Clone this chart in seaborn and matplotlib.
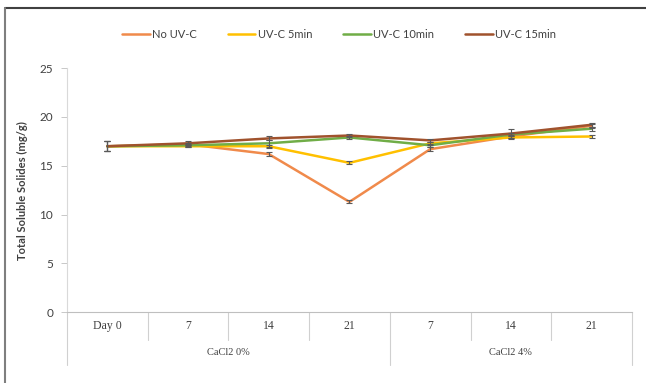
import matplotlib
matplotlib.use("Agg")
import matplotlib.pyplot as plt
import numpy as np
import pandas as pd
import seaborn as sns
from matplotlib.lines import Line2D

# Sampling days and CaCl2 groups
tick_labels = ["Day 0", "7", "14", "21", "7", "14", "21"]
group_labels = ["CaCl2 0%", "CaCl2 4%"]
series_names = ["No UV-C", "UV-C 5min", "UV-C 10min", "UV-C 15min"]

# Total soluble solids (mg/g)
no_uv = [17.0, 17.2, 16.2, 11.3, 16.7, 18.0, 19.1]
uv_5 = [17.0, 17.0, 17.0, 15.3, 17.3, 17.9, 18.0]
uv_10 = [17.0, 17.1, 17.3, 17.9, 17.1, 18.2, 18.8]
uv_15 = [17.0, 17.3, 17.8, 18.1, 17.6, 18.3, 19.2]

# Standard deviations
sd_no_uv = [0.5, 0.15, 0.2, 0.15, 0.2, 0.2, 0.2]
sd_5 = [0.5, 0.1, 0.15, 0.15, 0.15, 0.2, 0.15]
sd_10 = [0.5, 0.15, 0.35, 0.15, 0.15, 0.2, 0.2]
sd_15 = [0.5, 0.2, 0.2, 0.2, 0.15, 0.5, 0.2]

colors = ["#F08A4B", "#FFC000", "#70AD47", "#A0522D"]

values = [no_uv, uv_5, uv_10, uv_15]
sds = [sd_no_uv, sd_5, sd_10, sd_15]

rows = []
for name, vals, errs in zip(series_names, values, sds):
    for i, (v, e) in enumerate(zip(vals, errs)):
        rows.append({"pos": i, "series": name, "tss": v, "sd": e})
df = pd.DataFrame(rows)

sns.set_theme(style="white")
plt.rcParams["font.family"] = ["Lato", "DejaVu Sans"]

fig = plt.figure(figsize=(6.46, 3.83), dpi=100)
ax = fig.add_axes([0.1037, 0.185, 0.8745, 0.637])

sns.lineplot(data=df, x="pos", y="tss", hue="series", hue_order=series_names,
             palette=colors, linewidth=1.8, ax=ax, legend=False, sort=False)

for name, grp in df.groupby("series", sort=False):
    ax.errorbar(grp["pos"], grp["tss"], yerr=grp["sd"], fmt="none",
                ecolor="#595959", elinewidth=0.8, capsize=2.5, capthick=0.8,
                zorder=5)

ax.set_xlim(-0.5, 6.5)
ax.set_ylim(0, 25)
ax.set_yticks([0, 5, 10, 15, 20, 25])
ax.set_xticks([])
ax.set_xlabel("")
ax.set_ylabel("Total Soluble Solides (mg/g)", fontsize=8, fontweight="bold",
              color="#404040", labelpad=8)
ax.tick_params(axis="y", direction="out", length=4, width=0.6,
               color="#BFBFBF", labelsize=8.5, labelcolor="#404040", pad=6,
               left=True)

for side in ["top", "right"]:
    ax.spines[side].set_visible(False)
ax.spines["left"].set_color("#D9D9D9")
ax.spines["left"].set_linewidth(0.8)
ax.spines["bottom"].set_color("#BFBFBF")
ax.spines["bottom"].set_linewidth(0.8)

# Category axis drawn as a two-level table below the plot
trans = ax.get_xaxis_transform()
short_drop = -0.115
long_drop = -0.215
for i in range(8):
    x = i - 0.5
    drop = long_drop if i in (0, 4, 7) else short_drop
    ax.plot([x, x], [0, drop], transform=trans, color="#D0D0D0",
            linewidth=0.8, clip_on=False)
for i, lab in enumerate(tick_labels):
    ax.text(i, -0.058, lab, transform=trans, ha="center", va="center",
            fontsize=8.5, family=["Liberation Serif"], color="#404040")
ax.text(1.5, -0.165, group_labels[0], transform=trans, ha="center",
        va="center", fontsize=7.5, family=["Liberation Serif"], color="#404040")
ax.text(5.0, -0.165, group_labels[1], transform=trans, ha="center",
        va="center", fontsize=7.5, family=["Liberation Serif"], color="#404040")

handles = [Line2D([0], [0], color=c, linewidth=1.8) for c in colors]
fig.legend(handles, series_names, loc="center", bbox_to_anchor=(0.525, 0.909),
           ncol=4, frameon=False, fontsize=8, handlelength=2.5,
           handletextpad=0.2, columnspacing=2.8, labelcolor="#404040")

# Outer frame along the top and left edges
fig.add_artist(Line2D([0.008, 1.0], [0.978, 0.978], transform=fig.transFigure,
                      color="#404040", linewidth=1.5))
fig.add_artist(Line2D([0.008, 0.008], [0.0, 0.978], transform=fig.transFigure,
                      color="#7F7F7F", linewidth=1.5))

fig.savefig("out.png", dpi=100)
